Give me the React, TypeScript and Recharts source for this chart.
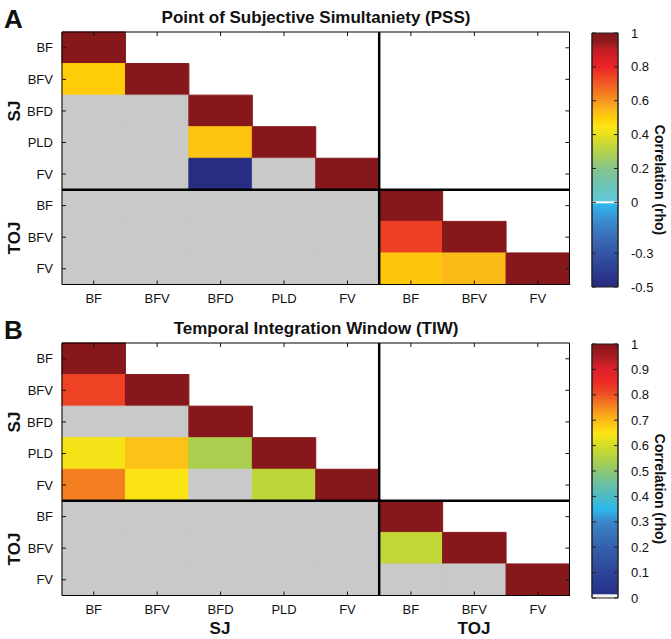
import React from 'react';
import { ScatterChart, Scatter, XAxis, YAxis, ReferenceArea, ReferenceLine } from 'recharts';

const FONT = '"Liberation Sans", Arial, Helvetica, sans-serif';

// ---------- categories ----------
const sjLabels = ['BF', 'BFV', 'BFD', 'PLD', 'FV'];
const tojLabels = ['BF', 'BFV', 'FV'];
const axisLabels = [...sjLabels, ...tojLabels];

// ---------- A: PSS correlations (null = not significant, grey) ----------
const pssSJ: (number | null)[][] = [
  [1],
  [0.5, 1],
  [null, null, 1],
  [null, null, 0.52, 1],
  [null, null, -0.48, null, 1],
];
const pssTOJxSJ: (number | null)[][] = [
  [null, null, null, null, null],
  [null, null, null, null, null],
  [null, null, null, null, null],
];
const pssTOJ: (number | null)[][] = [
  [1],
  [0.75, 1],
  [0.51, 0.54, 1],
];

// ---------- B: TIW correlations ----------
const tiwSJ: (number | null)[][] = [
  [1],
  [0.82, 1],
  [null, null, 1],
  [0.64, 0.69, 0.54, 1],
  [0.76, 0.645, null, 0.57, 1],
];
const tiwTOJxSJ: (number | null)[][] = [
  [null, null, null, null, null],
  [null, null, null, null, null],
  [null, null, null, null, null],
];
const tiwTOJ: (number | null)[][] = [
  [1],
  [0.575, 1],
  [null, null, 1],
];

// ---------- colorbar ticks ----------
const pssTicks = [1, 0.8, 0.6, 0.4, 0.2, 0, -0.3, -0.5];
const tiwTicks = [1, 0.9, 0.8, 0.7, 0.6, 0.5, 0.4, 0.3, 0.2, 0.1, 0];

// ---------- colormaps (styles) ----------
type Stop = [number, string];
const cmapA: Stop[] = [
  [-0.5, '#262A7E'],
  [-0.4, '#2C3E93'],
  [-0.3, '#3456A6'],
  [-0.2, '#3B6FBA'],
  [-0.1, '#3A8FD2'],
  [-0.005, '#2EB9EE'],
  [0.005, '#5FC8DA'],
  [0.1, '#6CC3B5'],
  [0.2, '#86C58C'],
  [0.3, '#B5D24A'],
  [0.4, '#E6E11E'],
  [0.45, '#FFE513'],
  [0.5, '#FFCC0A'],
  [0.55, '#FBB51B'],
  [0.6, '#F7941E'],
  [0.7, '#F05A24'],
  [0.75, '#EE4024'],
  [0.8, '#EC2227'],
  [0.9, '#C41E24'],
  [0.95, '#8E191C'],
  [1.0, '#86171A'],
];
const cmapB: Stop[] = [
  [0, '#F2F2F2'],
  [0.013, '#F2F2F2'],
  [0.016, '#27308A'],
  [0.1, '#2D4599'],
  [0.2, '#355FAD'],
  [0.3, '#3B86C8'],
  [0.35, '#2BB8EC'],
  [0.4, '#4DBAC6'],
  [0.45, '#6BC0A2'],
  [0.5, '#8DC670'],
  [0.55, '#B2D146'],
  [0.6, '#D3DD27'],
  [0.65, '#FFE413'],
  [0.7, '#FCB918'],
  [0.75, '#F58A20'],
  [0.8, '#EF5224'],
  [0.85, '#EC2A26'],
  [0.9, '#E0202A'],
  [0.95, '#A81C22'],
  [1.0, '#86171A'],
];
const GRAY = '#C9C9C9';

function hexToRgb(h: string) {
  const n = parseInt(h.slice(1), 16);
  return [(n >> 16) & 255, (n >> 8) & 255, n & 255];
}
function colorAt(cmap: Stop[], v: number) {
  if (v <= cmap[0][0]) return cmap[0][1];
  for (let i = 1; i < cmap.length; i++) {
    if (v <= cmap[i][0]) {
      const [v0, c0] = cmap[i - 1];
      const [v1, c1] = cmap[i];
      const t = (v - v0) / (v1 - v0);
      const a = hexToRgb(c0);
      const b = hexToRgb(c1);
      const m = a.map((x, k) => Math.round(x + (b[k] - x) * t));
      return `rgb(${m[0]},${m[1]},${m[2]})`;
    }
  }
  return cmap[cmap.length - 1][1];
}

type Cell = { x: number; y: number; v: number | null };
function buildCells(sj: (number | null)[][], tojxsj: (number | null)[][], toj: (number | null)[][]): Cell[] {
  const out: Cell[] = [];
  sj.forEach((row, i) => row.forEach((v, j) => out.push({ x: j, y: i, v })));
  tojxsj.forEach((row, k) => row.forEach((v, j) => out.push({ x: j, y: sjLabels.length + k, v })));
  toj.forEach((row, k) =>
    row.forEach((v, m) => out.push({ x: sjLabels.length + m, y: sjLabels.length + k, v }))
  );
  return out;
}

const pssCells = buildCells(pssSJ, pssTOJxSJ, pssTOJ);
const tiwCells = buildCells(tiwSJ, tiwTOJxSJ, tiwTOJ);

const idx = axisLabels.map((_, i) => i);
const blank = () => '';
const Empty = () => <g />;

const TICK_LEN = 4;
const M_BOTTOM = 9;
const M_LEFT = 9;
const M_CB = 13;
const TICK_FONT = 13;

// custom ticks: inward tick marks + labels
const BottomTick = (p: any) => {
  const ay = p.y - M_BOTTOM;
  return (
    <g>
      <line x1={p.x} x2={p.x} y1={ay} y2={ay - TICK_LEN} stroke="#111" strokeWidth={1} />
      <text x={p.x} y={p.y} dy="0.71em" textAnchor="middle" fontSize={TICK_FONT} fontFamily={FONT} fill="#111">
        {axisLabels[p.payload.value]}
      </text>
    </g>
  );
};
const LeftTick = (p: any) => {
  const ax = p.x + M_LEFT;
  return (
    <g>
      <line x1={ax} x2={ax + TICK_LEN} y1={p.y} y2={p.y} stroke="#111" strokeWidth={1} />
      <text x={p.x} y={p.y} dy="0.355em" textAnchor="end" fontSize={TICK_FONT} fontFamily={FONT} fill="#111">
        {axisLabels[p.payload.value]}
      </text>
    </g>
  );
};
const TopTick = (p: any) => (
  <line x1={p.x} x2={p.x} y1={p.y} y2={p.y + TICK_LEN} stroke="#111" strokeWidth={1} />
);
const RightTick = (p: any) => (
  <line x1={p.x - TICK_LEN} x2={p.x} y1={p.y} y2={p.y} stroke="#111" strokeWidth={1} />
);
const CbRightTick = (p: any) => {
  const ax = p.x - M_CB;
  return (
    <g>
      <line x1={ax - TICK_LEN} x2={ax} y1={p.y} y2={p.y} stroke="#222" strokeWidth={1} />
      <text x={p.x} y={p.y} dy="0.355em" textAnchor="start" fontSize={TICK_FONT} fontFamily={FONT} fill="#111">
        {String(p.payload.value)}
      </text>
    </g>
  );
};
const CbLeftTick = (p: any) => (
  <line x1={p.x} x2={p.x + TICK_LEN} y1={p.y} y2={p.y} stroke="#222" strokeWidth={1} />
);

function Matrix({ cells, cmap }: { cells: Cell[]; cmap: Stop[] }) {
  const dom: [number, number] = [-0.5, axisLabels.length - 0.5];
  const split = sjLabels.length - 0.5;
  return (
    <ScatterChart width={580} height={310} margin={{ top: 31, right: 9.5, bottom: 1.5, left: 12 }}>
      {cells.map((c) => {
        const col = c.v == null ? GRAY : colorAt(cmap, c.v);
        return (
          <ReferenceArea
            key={`${c.x}-${c.y}`}
            xAxisId="b"
            yAxisId="l"
            x1={c.x - 0.5}
            x2={c.x + 0.5}
            y1={c.y - 0.5}
            y2={c.y + 0.5}
            fill={col}
            fillOpacity={1}
            stroke={col}
            strokeWidth={1}
            ifOverflow="visible"
          />
        );
      })}
      <ReferenceLine xAxisId="b" yAxisId="l" x={split} stroke="#000" strokeWidth={2.5} />
      <ReferenceLine xAxisId="b" yAxisId="l" y={split} stroke="#000" strokeWidth={2.5} />
      <Scatter xAxisId="b" yAxisId="l" data={cells} shape={Empty} isAnimationActive={false} />
      <Scatter xAxisId="t" yAxisId="r" data={cells} shape={Empty} isAnimationActive={false} />
      <XAxis
        xAxisId="b"
        orientation="bottom"
        type="number"
        dataKey="x"
        domain={dom}
        ticks={idx}
        interval={0}
        height={24}
        tickSize={0}
        tickLine={false}
        tickMargin={M_BOTTOM}
        stroke="#000"
        tick={BottomTick}
      />
      <XAxis
        xAxisId="t"
        orientation="top"
        type="number"
        dataKey="x"
        domain={dom}
        ticks={idx}
        interval={0}
        tickFormatter={blank}
        height={1}
        tickSize={0}
        tickMargin={0}
        tickLine={false}
        stroke="#000"
        tick={TopTick}
      />
      <YAxis
        yAxisId="l"
        orientation="left"
        type="number"
        dataKey="y"
        domain={dom}
        reversed
        ticks={idx}
        interval={0}
        width={50}
        tickSize={0}
        tickLine={false}
        tickMargin={M_LEFT}
        stroke="#000"
        tick={LeftTick}
      />
      <YAxis
        yAxisId="r"
        orientation="right"
        type="number"
        dataKey="y"
        domain={dom}
        reversed
        ticks={idx}
        interval={0}
        tickFormatter={blank}
        width={1}
        tickSize={0}
        tickMargin={0}
        tickLine={false}
        stroke="#000"
        tick={RightTick}
      />
    </ScatterChart>
  );
}

function ColorBar({
  cmap,
  ticks,
  gradId,
  zeroLine,
}: {
  cmap: Stop[];
  ticks: number[];
  gradId: string;
  zeroLine: boolean;
}) {
  const min = Math.min(...ticks);
  const max = Math.max(...ticks);
  const pts = ticks.map((t) => ({ x: 0.5, y: t }));
  return (
    <ScatterChart width={111} height={310} margin={{ top: 33, right: 13, bottom: 23, left: 31 }}>
      <defs>
        <linearGradient id={gradId} x1="0" y1="0" x2="0" y2="1">
          {cmap
            .slice()
            .reverse()
            .map(([v, c], i) => (
              <stop key={i} offset={(max - v) / (max - min)} stopColor={c} />
            ))}
        </linearGradient>
      </defs>
      <ReferenceArea
        xAxisId="x"
        yAxisId="r"
        x1={0}
        x2={1}
        y1={min}
        y2={max}
        fill={`url(#${gradId})`}
        fillOpacity={1}
        stroke="#222"
        strokeWidth={1}
        ifOverflow="visible"
      />
      {zeroLine && <ReferenceLine xAxisId="x" yAxisId="r" y={0} stroke="#fff" strokeWidth={2} />}
      <Scatter xAxisId="x" yAxisId="r" data={pts} shape={Empty} isAnimationActive={false} />
      <Scatter xAxisId="x" yAxisId="l" data={pts} shape={Empty} isAnimationActive={false} />
      <XAxis xAxisId="x" type="number" dataKey="x" domain={[0, 1]} hide />
      <YAxis
        yAxisId="r"
        orientation="right"
        type="number"
        dataKey="y"
        domain={[min, max]}
        ticks={ticks}
        interval={0}
        width={40}
        tickSize={0}
        tickLine={false}
        tickMargin={M_CB}
        stroke="#222"
        tick={CbRightTick}
      />
      <YAxis
        yAxisId="l"
        orientation="left"
        type="number"
        dataKey="y"
        domain={[min, max]}
        ticks={ticks}
        interval={0}
        tickFormatter={blank}
        width={1}
        tickSize={0}
        tickMargin={0}
        tickLine={false}
        stroke="#222"
        tick={CbLeftTick}
      />
    </ScatterChart>
  );
}

const PANEL_B_TOP = 311;

function Texts() {
  const bold = { fontFamily: FONT, fontWeight: 700, fill: '#111' } as const;
  const block = (dy: number, letter: string, title: string, cbShift: number) => (
    <g transform={`translate(0, ${dy})`}>
      <text x={4} y={28} fontSize={26} {...bold}>
        {letter}
      </text>
      <text x={316} y={23} fontSize={17} textAnchor="middle" {...bold}>
        {title}
      </text>
      <text transform="translate(20, 111) rotate(-90)" fontSize={17} textAnchor="middle" {...bold}>
        SJ
      </text>
      <text transform="translate(20, 238) rotate(-90)" fontSize={17} textAnchor="middle" {...bold}>
        TOJ
      </text>
      <text transform={`translate(655, ${160 + cbShift}) rotate(90)`} fontSize={14} textAnchor="middle" {...bold}>
        Correlation (rho)
      </text>
    </g>
  );
  return (
    <svg width={671} height={639} style={{ position: 'absolute', left: 0, top: 0, pointerEvents: 'none' }}>
      {block(0, 'A', 'Point of Subjective Simultaniety (PSS)', 20)}
      {block(PANEL_B_TOP, 'B', 'Temporal Integration Window (TIW)', 18)}
      <text x={220} y={634} fontSize={17} textAnchor="middle" fontFamily={FONT} fontWeight={700} fill="#111">
        SJ
      </text>
      <text x={474} y={634} fontSize={17} textAnchor="middle" fontFamily={FONT} fontWeight={700} fill="#111">
        TOJ
      </text>
    </svg>
  );
}

export default function App() {
  return (
    <div
      style={{
        position: 'absolute',
        left: 0,
        top: 0,
        width: 671,
        height: 639,
        background: '#fff',
        fontFamily: FONT,
        overflow: 'hidden',
      }}
    >
      <div style={{ position: 'absolute', left: 0, top: 0 }}>
        <Matrix cells={pssCells} cmap={cmapA} />
      </div>
      <div style={{ position: 'absolute', left: 560, top: 0 }}>
        <ColorBar cmap={cmapA} ticks={pssTicks} gradId="gradA" zeroLine />
      </div>
      <div style={{ position: 'absolute', left: 0, top: PANEL_B_TOP }}>
        <Matrix cells={tiwCells} cmap={cmapB} />
      </div>
      <div style={{ position: 'absolute', left: 560, top: PANEL_B_TOP }}>
        <ColorBar cmap={cmapB} ticks={tiwTicks} gradId="gradB" zeroLine={false} />
      </div>
      <Texts />
    </div>
  );
}
